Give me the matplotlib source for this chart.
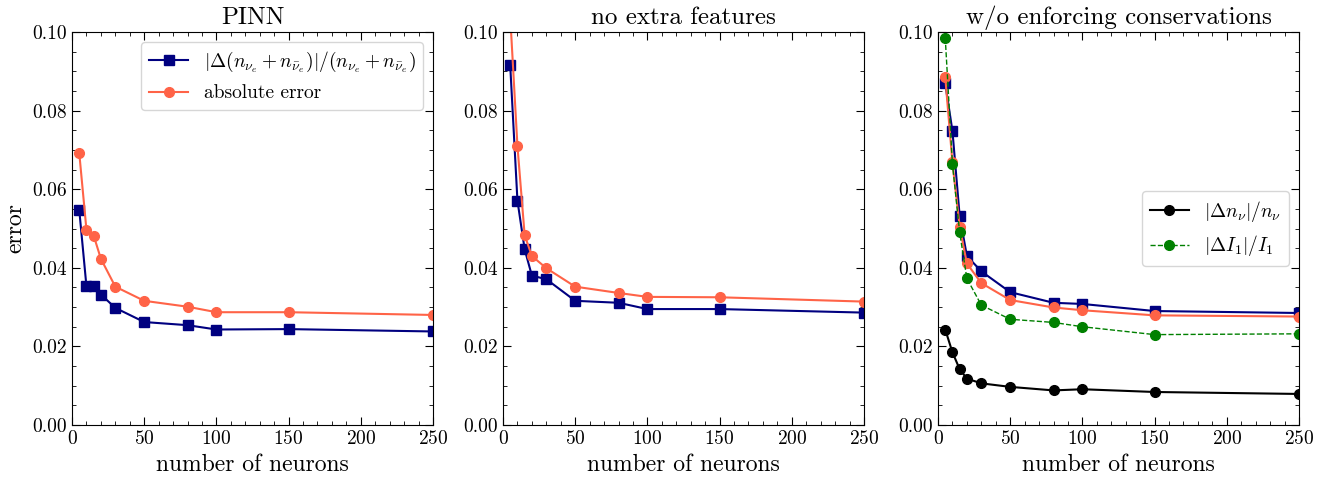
import matplotlib
matplotlib.use("Agg")
import matplotlib.pyplot as plt
from matplotlib.ticker import MultipleLocator

plt.rcParams['font.family'] = 'serif'
plt.rcParams['font.serif'] = ['cmr10']
plt.rcParams['mathtext.fontset'] = 'cm'
plt.rcParams['axes.formatter.use_mathtext'] = True

# 데이터
neurons = [5, 10, 15, 20, 30, 50, 80, 100, 150, 250]

# PINN
pinn_rel = [0.0548, 0.0353, 0.0353, 0.0332, 0.0298, 0.0262, 0.0254, 0.0243, 0.0244, 0.0238]
pinn_abs = [0.0693, 0.0497, 0.0482, 0.0423, 0.0352, 0.0316, 0.0301, 0.0287, 0.0287, 0.0280]

# no extra features
nef_rel = [0.0915, 0.0571, 0.0447, 0.0380, 0.0371, 0.0316, 0.0311, 0.0295, 0.0295, 0.0286]
nef_abs = [0.1040, 0.0710, 0.0483, 0.0430, 0.0399, 0.0352, 0.0336, 0.0326, 0.0325, 0.0314]

# w/o enforcing conservations
woc_rel = [0.0869, 0.0748, 0.0532, 0.0430, 0.0391, 0.0338, 0.0311, 0.0308, 0.0290, 0.0285]
woc_abs = [0.0886, 0.0668, 0.0505, 0.0411, 0.0361, 0.0318, 0.0299, 0.0292, 0.0279, 0.0276]
woc_nnu = [0.0243, 0.0185, 0.0142, 0.0118, 0.0106, 0.0097, 0.0088, 0.0091, 0.0084, 0.0079]
woc_i1 = [0.0986, 0.0664, 0.0490, 0.0373, 0.0305, 0.0269, 0.0261, 0.0250, 0.0230, 0.0232]

titles = ['PINN', 'no extra features', 'w/o enforcing conservations']
rel_label = r'$|\Delta(n_{\nu_e}+n_{\bar{\nu}_e})|/(n_{\nu_e}+n_{\bar{\nu}_e})$'

fig = plt.figure(figsize=(13.38, 4.82), dpi=100)
W, H = 1338, 482
lefts = [72, 503, 938]
axes = []
for l in lefts:
    axes.append(fig.add_axes([l / W, (H - 425) / H, 361 / W, 393 / H]))

for ax, t in zip(axes, titles):
    ax.set_xlim(0, 250)
    ax.set_ylim(0, 0.10)
    ax.xaxis.set_major_locator(MultipleLocator(50))
    ax.xaxis.set_minor_locator(MultipleLocator(10))
    ax.yaxis.set_major_locator(MultipleLocator(0.02))
    ax.yaxis.set_minor_locator(MultipleLocator(0.005))
    ax.tick_params(which='both', direction='in', top=True, right=True, labelsize=14)
    ax.tick_params(which='major', length=6)
    ax.tick_params(which='minor', length=3)
    ax.set_title(t, fontsize=18)
    ax.set_xlabel('number of neurons', fontsize=17)
    ax.yaxis.set_major_formatter(plt.FormatStrFormatter('%.2f'))

axes[0].set_ylabel('error', fontsize=17)

# PINN
ax = axes[0]
ax.plot(neurons, pinn_rel, color='navy', marker='s', ms=7, lw=1.5, label=rel_label)
ax.plot(neurons, pinn_abs, color='tomato', marker='o', ms=7, lw=1.5, label='absolute error')
ax.legend(loc='upper right', fontsize=14)

# no extra features
ax = axes[1]
ax.plot(neurons, nef_rel, color='navy', marker='s', ms=7, lw=1.5)
ax.plot(neurons, nef_abs, color='tomato', marker='o', ms=7, lw=1.5)

# w/o enforcing conservations
ax = axes[2]
ax.plot(neurons, woc_rel, color='navy', marker='s', ms=7, lw=1.5)
ax.plot(neurons, woc_abs, color='tomato', marker='o', ms=7, lw=1.5)
ax.plot(neurons, woc_nnu, color='black', marker='o', ms=7, lw=1.5, label=r'$|\Delta n_\nu|/n_\nu$')
ax.plot(neurons, woc_i1, color='green', marker='o', ms=7, lw=1, ls='--', label=r'$|\Delta I_1|/I_1$')
ax.legend(loc='center right', fontsize=14)

fig.savefig('out.png', dpi=100)
